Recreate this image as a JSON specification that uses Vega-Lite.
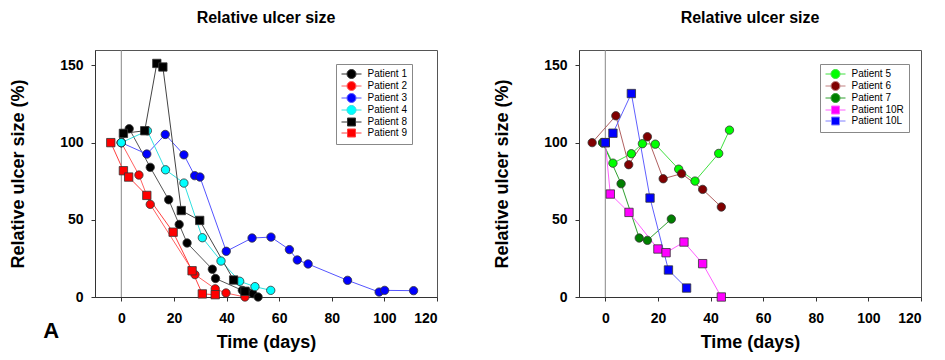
{
  "$schema": "https://vega.github.io/schema/vega-lite/v6.json",
  "padding": {"left": 9, "top": 9, "right": 5, "bottom": 0},
  "background": "white",
  "config": {
    "font": "Liberation Sans",
    "view": {"stroke": "#555", "strokeWidth": 1},
    "axis": {"grid": false, "domainColor": "#333", "tickColor": "#333", "tickSize": 4,
      "labelFont": "Liberation Sans", "labelFontWeight": "bold", "labelFontSize": 14, "labelColor": "black",
      "titleFont": "Liberation Sans", "titleFontWeight": "bold", "titleFontSize": 18, "titleColor": "black"},
    "title": {"font": "Liberation Sans", "fontWeight": "bold", "color": "black"}
  },
  "datasets": {
    "left": [
      {"patient": "Patient 1", "day": 0, "size": 100},
      {"patient": "Patient 1", "day": 3, "size": 109},
      {"patient": "Patient 1", "day": 11, "size": 84},
      {"patient": "Patient 1", "day": 18, "size": 63},
      {"patient": "Patient 1", "day": 22, "size": 47},
      {"patient": "Patient 1", "day": 25, "size": 35},
      {"patient": "Patient 1", "day": 34.6, "size": 18},
      {"patient": "Patient 1", "day": 35.8, "size": 12},
      {"patient": "Patient 1", "day": 46, "size": 4.3},
      {"patient": "Patient 1", "day": 48, "size": 3.2},
      {"patient": "Patient 1", "day": 50, "size": 2.2},
      {"patient": "Patient 1", "day": 52, "size": 0},
      {"patient": "Patient 2", "day": 0, "size": 100},
      {"patient": "Patient 2", "day": 6.7, "size": 79},
      {"patient": "Patient 2", "day": 11, "size": 60},
      {"patient": "Patient 2", "day": 28, "size": 14.5},
      {"patient": "Patient 2", "day": 35.7, "size": 5.3},
      {"patient": "Patient 2", "day": 39.8, "size": 2.6},
      {"patient": "Patient 2", "day": 47, "size": 0},
      {"patient": "Patient 3", "day": 0, "size": 100},
      {"patient": "Patient 3", "day": 9.7, "size": 92.6},
      {"patient": "Patient 3", "day": 16.7, "size": 105.3},
      {"patient": "Patient 3", "day": 23.8, "size": 92.1},
      {"patient": "Patient 3", "day": 27.9, "size": 78.6},
      {"patient": "Patient 3", "day": 29.9, "size": 77.7},
      {"patient": "Patient 3", "day": 39.9, "size": 29.6},
      {"patient": "Patient 3", "day": 49.7, "size": 38.2},
      {"patient": "Patient 3", "day": 56.9, "size": 38.8},
      {"patient": "Patient 3", "day": 63.9, "size": 30.7},
      {"patient": "Patient 3", "day": 66.9, "size": 24},
      {"patient": "Patient 3", "day": 71, "size": 21.4},
      {"patient": "Patient 3", "day": 86, "size": 10.8},
      {"patient": "Patient 3", "day": 98, "size": 3.2},
      {"patient": "Patient 3", "day": 100.1, "size": 4.3},
      {"patient": "Patient 3", "day": 111.1, "size": 4.1},
      {"patient": "Patient 4", "day": 0, "size": 100},
      {"patient": "Patient 4", "day": 9.9, "size": 107.7},
      {"patient": "Patient 4", "day": 16.8, "size": 82.4},
      {"patient": "Patient 4", "day": 23.8, "size": 73.8},
      {"patient": "Patient 4", "day": 30.8, "size": 38.4},
      {"patient": "Patient 4", "day": 37.9, "size": 23.3},
      {"patient": "Patient 4", "day": 45, "size": 10.2},
      {"patient": "Patient 4", "day": 50.8, "size": 6.7},
      {"patient": "Patient 4", "day": 56.8, "size": 4.3},
      {"patient": "Patient 8", "day": 0.8, "size": 106},
      {"patient": "Patient 8", "day": 8.9, "size": 107.7},
      {"patient": "Patient 8", "day": 13.5, "size": 151.3},
      {"patient": "Patient 8", "day": 15.8, "size": 149},
      {"patient": "Patient 8", "day": 22.8, "size": 56},
      {"patient": "Patient 8", "day": 29.8, "size": 49.6},
      {"patient": "Patient 8", "day": 42.7, "size": 11},
      {"patient": "Patient 8", "day": 47, "size": 3.7},
      {"patient": "Patient 9", "day": -4, "size": 100},
      {"patient": "Patient 9", "day": 0.8, "size": 81.8},
      {"patient": "Patient 9", "day": 2.8, "size": 77.7},
      {"patient": "Patient 9", "day": 9.7, "size": 65.8},
      {"patient": "Patient 9", "day": 19.7, "size": 42},
      {"patient": "Patient 9", "day": 26.9, "size": 17},
      {"patient": "Patient 9", "day": 30.8, "size": 2},
      {"patient": "Patient 9", "day": 35.7, "size": 1.5}
    ],
    "right": [
      {"patient": "Patient 5", "day": -1, "size": 100},
      {"patient": "Patient 5", "day": 2.9, "size": 86.7},
      {"patient": "Patient 5", "day": 9.9, "size": 92.8},
      {"patient": "Patient 5", "day": 14.1, "size": 99.3},
      {"patient": "Patient 5", "day": 19, "size": 99},
      {"patient": "Patient 5", "day": 27.9, "size": 82.8},
      {"patient": "Patient 5", "day": 34.1, "size": 75.1},
      {"patient": "Patient 5", "day": 43.1, "size": 93},
      {"patient": "Patient 5", "day": 47.2, "size": 108.1},
      {"patient": "Patient 6", "day": -5, "size": 100},
      {"patient": "Patient 6", "day": 4, "size": 117.4},
      {"patient": "Patient 6", "day": 8.9, "size": 85.7},
      {"patient": "Patient 6", "day": 16, "size": 103.8},
      {"patient": "Patient 6", "day": 22, "size": 76.6},
      {"patient": "Patient 6", "day": 29, "size": 79.9},
      {"patient": "Patient 6", "day": 37, "size": 69.7},
      {"patient": "Patient 6", "day": 44.1, "size": 58.3},
      {"patient": "Patient 7", "day": -1, "size": 100},
      {"patient": "Patient 7", "day": 6, "size": 73.4},
      {"patient": "Patient 7", "day": 12.9, "size": 38.2},
      {"patient": "Patient 7", "day": 16, "size": 36.7},
      {"patient": "Patient 7", "day": 25.1, "size": 50.5},
      {"patient": "Patient 10R", "day": 0, "size": 100},
      {"patient": "Patient 10R", "day": 1.9, "size": 66.7},
      {"patient": "Patient 10R", "day": 9, "size": 54.8},
      {"patient": "Patient 10R", "day": 20, "size": 31.1},
      {"patient": "Patient 10R", "day": 23.1, "size": 28.7},
      {"patient": "Patient 10R", "day": 29.9, "size": 35.6},
      {"patient": "Patient 10R", "day": 37, "size": 21.6},
      {"patient": "Patient 10R", "day": 44.1, "size": 0},
      {"patient": "Patient 10L", "day": 0, "size": 100},
      {"patient": "Patient 10L", "day": 2.9, "size": 106.1},
      {"patient": "Patient 10L", "day": 9.9, "size": 131.8},
      {"patient": "Patient 10L", "day": 17, "size": 64.1},
      {"patient": "Patient 10L", "day": 24, "size": 17.5},
      {"patient": "Patient 10L", "day": 30.9, "size": 5.8}
    ]
  },
  "title": {"text": "A", "orient": "bottom", "anchor": "start", "fontSize": 22, "fontWeight": "bold", "offset": -31, "dx": 34},
  "spacing": 142,
  "bounds": "flush",
  "resolve": {"scale": {"color": "independent", "fill": "independent", "shape": "independent"}, "legend": {"fill": "independent", "shape": "independent", "color": "independent"}},
  "hconcat": [
    {
      "width": 342, "height": 247,
      "title": {"text": "Relative ulcer size", "fontSize": 16, "offset": 24},
      "data": {"name": "left"},
      "layer": [
        {
          "data": {"values": [{"ref": 0}]},
          "mark": {"type": "rule", "color": "#888", "strokeWidth": 1},
          "encoding": {"x": {"field": "ref", "type": "quantitative", "scale": {"domain": [-10, 120], "nice": false}}}
        },
        {
          "mark": {"type": "line", "strokeWidth": 1},
          "encoding": {
            "x": {"field": "day", "type": "quantitative", "scale": {"domain": [-10, 120], "nice": false},
              "axis": {"values": [0, 20, 40, 60, 80, 100, 120], "title": "Time (days)", "labelPadding": 10, "titlePadding": 8}},
            "y": {"field": "size", "type": "quantitative", "scale": {"domain": [0, 160], "nice": false},
              "axis": {"values": [0, 50, 100, 150], "title": "Relative ulcer size (%)", "labelPadding": 8, "titlePadding": 32}},
            "color": {"field": "patient", "type": "nominal", "legend": null,
              "scale": {"range": ["#555555", "#ff6060", "#5555ff", "#30e0e0", "#444444", "#ff4040"]}}
          }
        },
        {
          "mark": {"type": "point", "filled": true, "size": 70, "stroke": "#333", "strokeWidth": 0.8, "opacity": 1},
          "encoding": {
            "x": {"field": "day", "type": "quantitative"},
            "y": {"field": "size", "type": "quantitative"},
            "fill": {"field": "patient", "type": "nominal",
              "scale": {"domain": ["Patient 1", "Patient 2", "Patient 3", "Patient 4", "Patient 8", "Patient 9"],
                "range": ["#000000", "#ff0000", "#0000ff", "#00ffff", "#000000", "#ff0000"]},
              "legend": {"orient": "none", "legendX": 241, "legendY": 14, "title": null,
                "strokeColor": "#888", "fillColor": "white", "padding": 5,
                "labelFont": "Liberation Sans", "labelFontSize": 10, "labelColor": "black",
                "symbolSize": 64, "symbolOffset": 5.5, "labelOffset": 11, "rowPadding": -2.3,
                "encoding": {"symbols": {
                  "size": {"value": 64},
                  "strokeWidth": {"value": 1},
                  "shape": {"value": {"expr": "indexof(['Patient 8','Patient 9'], datum.value) >= 0 ? 'M-2.5,0H-1M1,0H2.5M-1,-1H1V1H-1Z' : 'M-2.5,0H-1.125M1.125,0H2.5M1.125,0A1.125,1.125,0,1,1,-1.125,0A1.125,1.125,0,1,1,1.125,0Z'"}},
                  "stroke": {"value": {"expr": "['#333333','#ff6060','#5555ff','#30e0e0','#333333','#ff4040'][indexof(['Patient 1','Patient 2','Patient 3','Patient 4','Patient 8','Patient 9'], datum.value)]"}}
                }}}},
            "shape": {"field": "patient", "type": "nominal", "legend": null,
              "scale": {"range": ["circle", "circle", "circle", "circle", "square", "square"]}}
          }
        }
      ]
    },
    {
      "width": 342, "height": 247,
      "title": {"text": "Relative ulcer size", "fontSize": 16, "offset": 24},
      "data": {"name": "right"},
      "layer": [
        {
          "data": {"values": [{"ref": 0}]},
          "mark": {"type": "rule", "color": "#888", "strokeWidth": 1},
          "encoding": {"x": {"field": "ref", "type": "quantitative", "scale": {"domain": [-10, 120], "nice": false}}}
        },
        {
          "mark": {"type": "line", "strokeWidth": 1},
          "encoding": {
            "x": {"field": "day", "type": "quantitative", "scale": {"domain": [-10, 120], "nice": false},
              "axis": {"values": [0, 20, 40, 60, 80, 100, 120], "title": "Time (days)", "labelPadding": 10, "titlePadding": 8}},
            "y": {"field": "size", "type": "quantitative", "scale": {"domain": [0, 160], "nice": false},
              "axis": {"values": [0, 50, 100, 150], "title": "Relative ulcer size (%)", "labelPadding": 8, "titlePadding": 32}},
            "color": {"field": "patient", "type": "nominal", "legend": null,
              "scale": {"range": ["#6060ff", "#ff60ff", "#40e040", "#b06060", "#30a030"]}}
          }
        },
        {
          "mark": {"type": "point", "filled": true, "size": 70, "stroke": "#333", "strokeWidth": 0.8, "opacity": 1},
          "encoding": {
            "x": {"field": "day", "type": "quantitative"},
            "y": {"field": "size", "type": "quantitative"},
            "fill": {"field": "patient", "type": "nominal",
              "scale": {"domain": ["Patient 5", "Patient 6", "Patient 7", "Patient 10R", "Patient 10L"],
                "range": ["#00ff00", "#800000", "#008000", "#ff00ff", "#0000ff"]},
              "legend": {"orient": "none", "legendX": 241, "legendY": 14, "title": null,
                "strokeColor": "#888", "fillColor": "white", "padding": 5,
                "labelFont": "Liberation Sans", "labelFontSize": 10, "labelColor": "black",
                "symbolSize": 64, "symbolOffset": 5.5, "labelOffset": 11, "rowPadding": -2.3,
                "encoding": {"symbols": {
                  "size": {"value": 64},
                  "strokeWidth": {"value": 1},
                  "shape": {"value": {"expr": "indexof(['Patient 10R','Patient 10L'], datum.value) >= 0 ? 'M-2.5,0H-1M1,0H2.5M-1,-1H1V1H-1Z' : 'M-2.5,0H-1.125M1.125,0H2.5M1.125,0A1.125,1.125,0,1,1,-1.125,0A1.125,1.125,0,1,1,1.125,0Z'"}},
                  "stroke": {"value": {"expr": "['#40e040','#c08080','#30a030','#ff60ff','#8080ff'][indexof(['Patient 5','Patient 6','Patient 7','Patient 10R','Patient 10L'], datum.value)]"}}
                }}}},
            "shape": {"field": "patient", "type": "nominal", "legend": null,
              "scale": {"range": ["square", "square", "circle", "circle", "circle"]}}
          }
        }
      ]
    }
  ]
}
